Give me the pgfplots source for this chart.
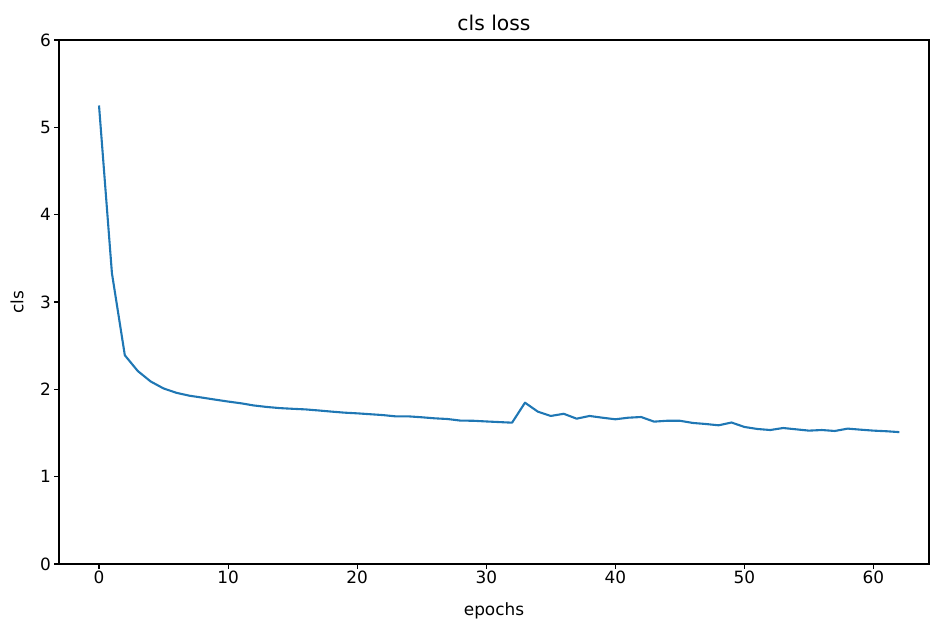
\documentclass[border=0pt]{standalone}
\usepackage{fontspec}
\setmainfont{DejaVu Sans}
\usepackage{pgfplots}
\pgfplotsset{compat=1.18}
\usetikzlibrary{calc}
\definecolor{mplblue}{HTML}{1F77B4}

\begin{document}
\begin{tikzpicture}[x=1pt,y=1pt]
\begin{axis}[
  name=ax,
  scale only axis,
  width=870pt, height=524pt,
  xmin=-3.1, xmax=64.3,
  ymin=0, ymax=6,
  xtick={0,10,...,60},
  ytick={0,1,...,6},
  tick align=outside,
  tick pos=left,
  major tick length=4.9pt,
  every tick/.style={black, line width=1.1pt},
  axis line style={line width=1.1pt},
  tick label style={font=\fontsize{16.9}{19}\selectfont},
  xticklabel style={inner sep=2pt},
  yticklabel style={inner sep=3pt},
  /pgf/number format/assume math mode=true,
  label style={font=\fontsize{16.9}{19}\selectfont},
  xlabel={epochs},
  ylabel={cls},
  xlabel style={yshift=-13pt},
  ylabel style={yshift=10pt},
  title={cls loss},
  title style={font=\fontsize{20.3}{23}\selectfont, yshift=0pt},
]
% cls loss per epoch
\addplot[mplblue, line width=2.1pt, line join=round] coordinates {
(0,5.25) (1,3.33) (2,2.39) (3,2.21) (4,2.09) (5,2.01) (6,1.96) (7,1.927)
(8,1.905) (9,1.882) (10,1.86) (11,1.84) (12,1.815) (13,1.798) (14,1.785)
(15,1.777) (16,1.77) (17,1.758) (18,1.745) (19,1.733) (20,1.725) (21,1.715)
(22,1.705) (23,1.69) (24,1.69) (25,1.68) (26,1.668) (27,1.66) (28,1.642)
(29,1.64) (30,1.632) (31,1.625) (32,1.618) (33,1.847) (34,1.744) (35,1.695)
(36,1.72) (37,1.664) (38,1.695) (39,1.675) (40,1.657) (41,1.675) (42,1.683)
(43,1.63) (44,1.64) (45,1.64) (46,1.615) (47,1.603) (48,1.588) (49,1.62)
(50,1.569) (51,1.546) (52,1.534) (53,1.557) (54,1.542) (55,1.527) (56,1.534)
(57,1.523) (58,1.55) (59,1.538) (60,1.527) (61,1.52) (62,1.51)
};
\end{axis}
\pgfresetboundingbox
\path[use as bounding box] ($(ax.south west)+(-59pt,-60pt)$) rectangle ($(ax.north east)+(1pt,40pt)$);
\end{tikzpicture}
\end{document}
